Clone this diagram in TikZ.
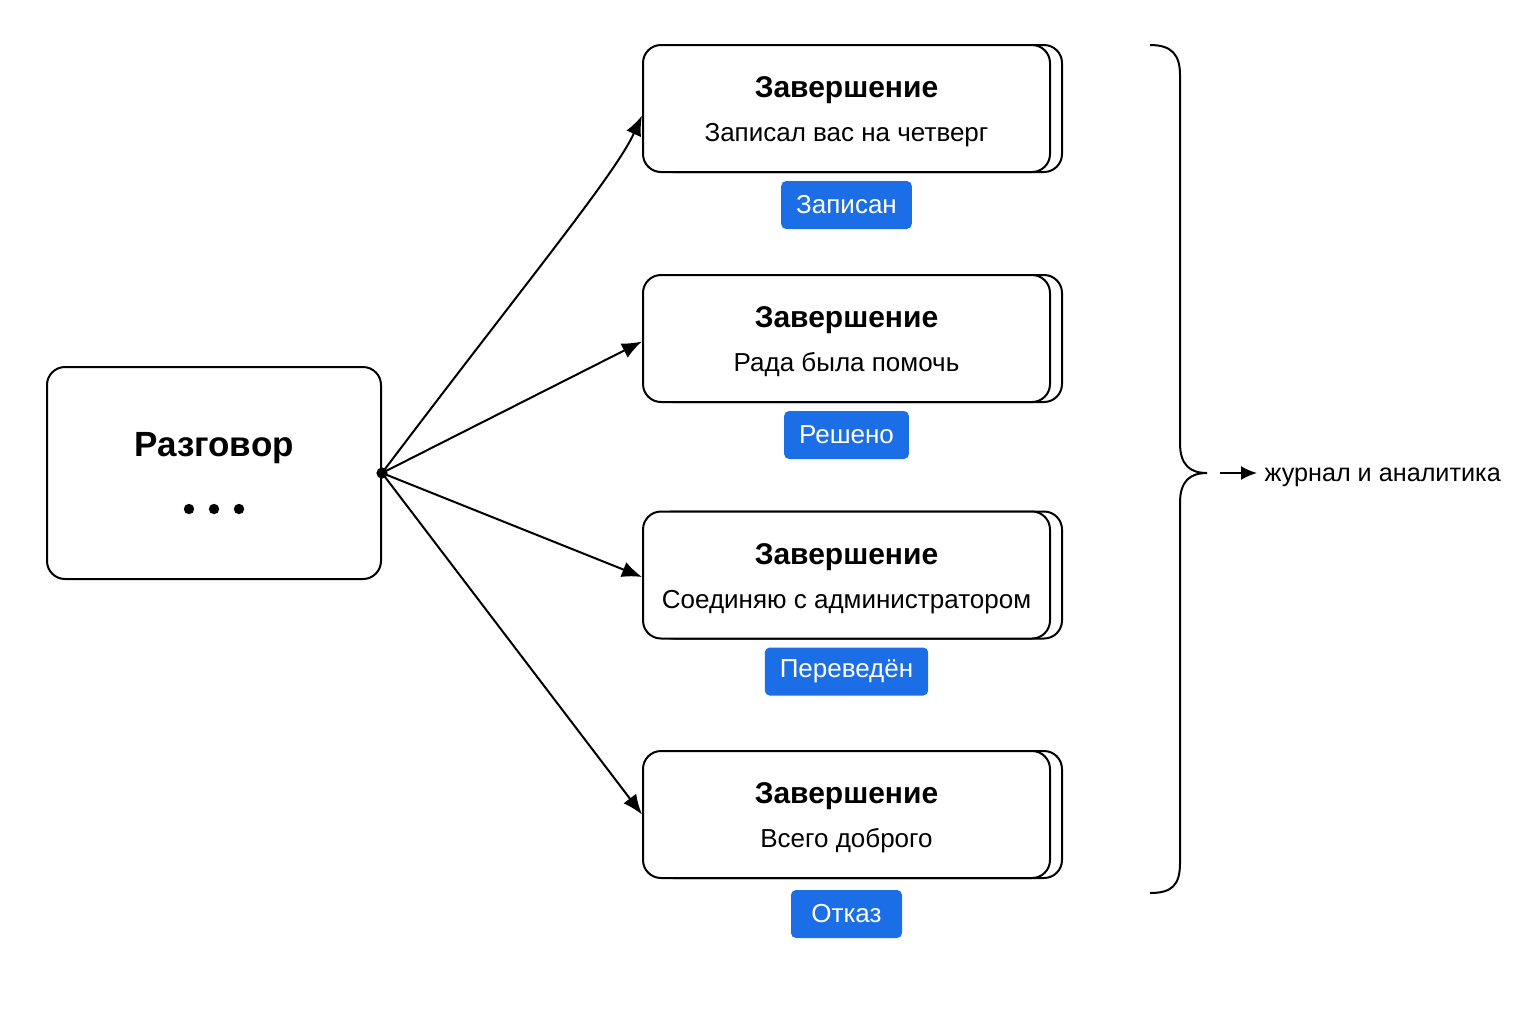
\documentclass[tikz,border=0pt]{standalone}
\usepackage{fontspec}
\setmainfont{Liberation Sans}
\usetikzlibrary{positioning,shadows,arrows.meta}

\definecolor{tagblue}{RGB}{28,110,230}

\tikzset{
	talkbox/.style={draw, line width=1pt, rounded corners=9pt, fill=white,
		minimum width=167pt, minimum height=106pt},
	endbox/.style={draw, line width=1pt, rounded corners=9pt, fill=white,
		minimum width=203.5pt, minimum height=63.5pt, align=center,
		font=\fontsize{13}{16}\selectfont,
		copy shadow={shadow xshift=6pt, shadow yshift=0pt}},
	tag/.style={fill=tagblue, text=white, rounded corners=2.5pt,
		minimum height=24pt, minimum width=55.5pt, inner xsep=7.5pt,
		font=\fontsize{13}{15}\selectfont}
}

\newcommand{\closingtext}[1]{\rule{0pt}{14pt}{\bfseries\fontsize{15}{18}\selectfont Завершение}\\[6pt]#1}

\begin{document}
\begin{tikzpicture}[x=0.5pt, y=-0.5pt, line width=1pt, >={Latex[length=10pt,width=8pt]}]
	\useasboundingbox (0,0) rectangle (1536,1024);

	% left box
	\node[talkbox] (talk) at (214,473) {};
	\node[font=\bfseries\fontsize{17.5}{20}\selectfont] (talktitle) at ([yshift=12.5pt]talk.center) {Разговор};
	\foreach \k in {-1,0,1}
		\fill ([xshift=\k*12.5pt, yshift=-18pt]talk.center) circle (2.6pt);

	% endings
	\node[endbox] (e1) at (846.5,108.5) {\closingtext{Записал вас на четверг}};
	\node[endbox] (e2) at (846.5,338.5) {\closingtext{Рада была помочь}};
	\node[endbox] (e3) at (846.5,575) {\closingtext{Соединяю с администратором}};
	\node[endbox] (e4) at (846.5,814.5) {\closingtext{Всего доброго}};

	\node[tag, below=3.5pt of e1] (t1) {Записан};
	\node[tag, below=3.5pt of e2] (t2) {Решено};
	\node[tag, below=3.5pt of e3] (t3) {Переведён};
	\node[tag, below=5pt of e4] (t4) {Отказ};

	\coordinate (j) at (talk.east);
	\fill (j) circle (2.8pt);
	\draw[->] (j) .. controls (520,290) and (615,175) .. ([yshift=-3.5pt]e1.west);
	\draw[->] (j) -- ([yshift=-1.5pt]e2.west);
	\draw[->] (j) -- ([yshift=-1pt]e3.west);
	\draw[->] (j) -- (e4.west);

	% brace
	\coordinate (brtop) at (1150,45);
	\coordinate (brtip) at (1207,473);
	\coordinate (brbot) at (1150,893);
	\draw (brtop) .. controls (1172,45) and (1180,55) .. (1180,75)
		-- (1180,443) .. controls (1180,465) and (1190,473) .. (brtip)
		.. controls (1190,473) and (1180,481) .. (1180,503)
		-- (1180,863) .. controls (1180,885) and (1172,893) .. (brbot);

	\coordinate (logarrow) at (1220,473);
	\node[anchor=west, font=\fontsize{12.6}{15}\selectfont] (log) at (1257,477) {журнал и аналитика};
	\draw[-{Latex[length=8pt,width=7pt]}] (logarrow) -- (logarrow -| log.west);
\end{tikzpicture}
\end{document}
